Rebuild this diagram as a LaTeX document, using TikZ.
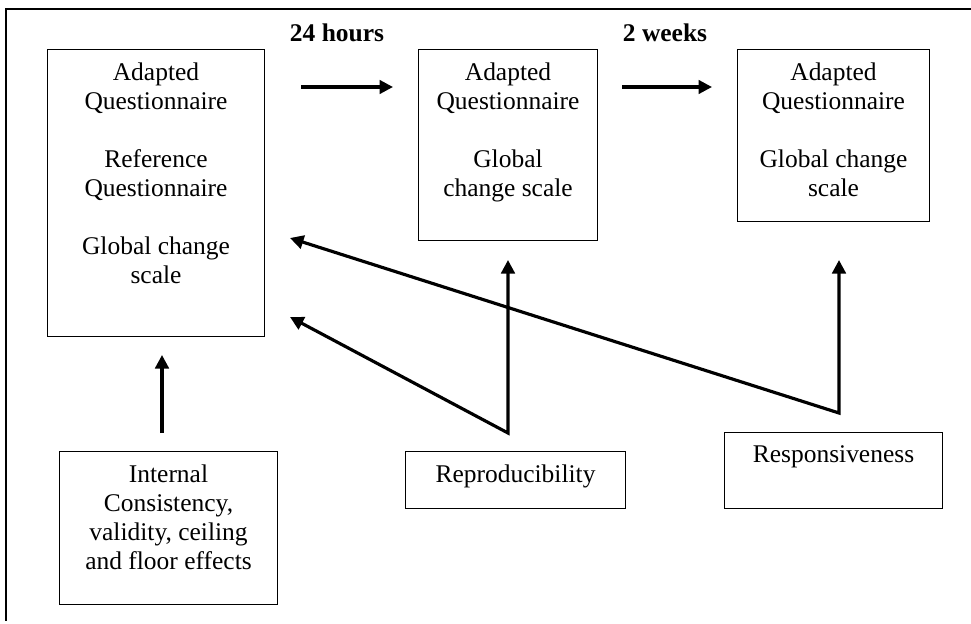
\documentclass[tikz,border=0pt]{standalone}
\usepackage{fontspec}
\setmainfont{Liberation Serif}
\usetikzlibrary{arrows.meta}

\tikzset{
	stagebox/.style={draw, line width=0.6pt, inner sep=0pt, anchor=north west},
	flow/.style={line width=1.8pt, -{Triangle[length=0.27cm, width=0.27cm]}},
	twoflow/.style={line width=1.8pt, {Triangle[length=0.27cm, width=0.27cm]}-{Triangle[length=0.27cm, width=0.27cm]}},
	timelabel/.style={font=\fontsize{14.5pt}{16.5pt}\selectfont\bfseries}
}
\newcommand{\stagetext}[3]{\parbox[c][#2][t]{#1}{\centering\vspace*{0.27cm}#3}}

\begin{document}
\begin{tikzpicture}[x=0.02cm, y=-0.02cm, font=\fontsize{14.5pt}{16.5pt}\selectfont]
			%%%%% FRAME %%%%%
			\useasboundingbox (0,0) rectangle (971,623);
			\draw[line width=1.2pt] (971,9) -- (6,9) -- (6,621);
			
			%%%%% STAGES %%%%%
			\node[stagebox] (first) at (47,49) {\stagetext{4.34cm}{5.74cm}{Adapted\\Questionnaire\\[16.5pt]Reference\\Questionnaire\\[16.5pt]Global change\\scale}};
			\node[stagebox] (second) at (418,49) {\stagetext{3.58cm}{3.82cm}{Adapted\\Questionnaire\\[16.5pt]Global\\change scale}};
			\node[stagebox] (third) at (737,49) {\stagetext{3.84cm}{3.44cm}{Adapted\\Questionnaire\\[16.5pt]Global change\\scale}};
			
			\node[timelabel] (hours) at (337,33) {24 hours};
			\node[timelabel] (weeks) at (665,33) {2 weeks};
			
			%%%%% PROPERTIES %%%%%
			\node[stagebox] (internal) at (59,451) {\stagetext{4.36cm}{3.06cm}{Internal\\Consistency,\\validity, ceiling\\and floor effects}};
			\node[stagebox] (repro) at (405,451) {\stagetext{4.4cm}{1.14cm}{Reproducibility}};
			\node[stagebox] (resp) at (724,432) {\stagetext{4.36cm}{1.52cm}{Responsiveness}};
			
			%%%%% ARROWS %%%%%
			\coordinate (hoursStart) at (301,87);
			\coordinate (hoursEnd) at (393,87);
			\coordinate (weeksStart) at (622,87);
			\coordinate (weeksEnd) at (712,87);
			\draw[flow] (hoursStart) -- (hoursEnd);
			\draw[flow] (weeksStart) -- (weeksEnd);
			
			\coordinate (internalFoot) at (162,433);
			\coordinate (internalTip) at (162,355);
			\draw[flow] (internalFoot) -- (internalTip);
			
			\coordinate (reproVertex) at (508,433);
			\coordinate (reproTipFirst) at (290,317);
			\coordinate (reproTipSecond) at (508,260);
			\draw[twoflow] (reproTipFirst) -- (reproVertex) -- (reproTipSecond);
			
			\coordinate (respVertex) at (839,413);
			\coordinate (respTipFirst) at (290,238);
			\coordinate (respTipThird) at (839,260);
			\draw[twoflow] (respTipFirst) -- (respVertex) -- (respTipThird);
\end{tikzpicture}
\end{document}
